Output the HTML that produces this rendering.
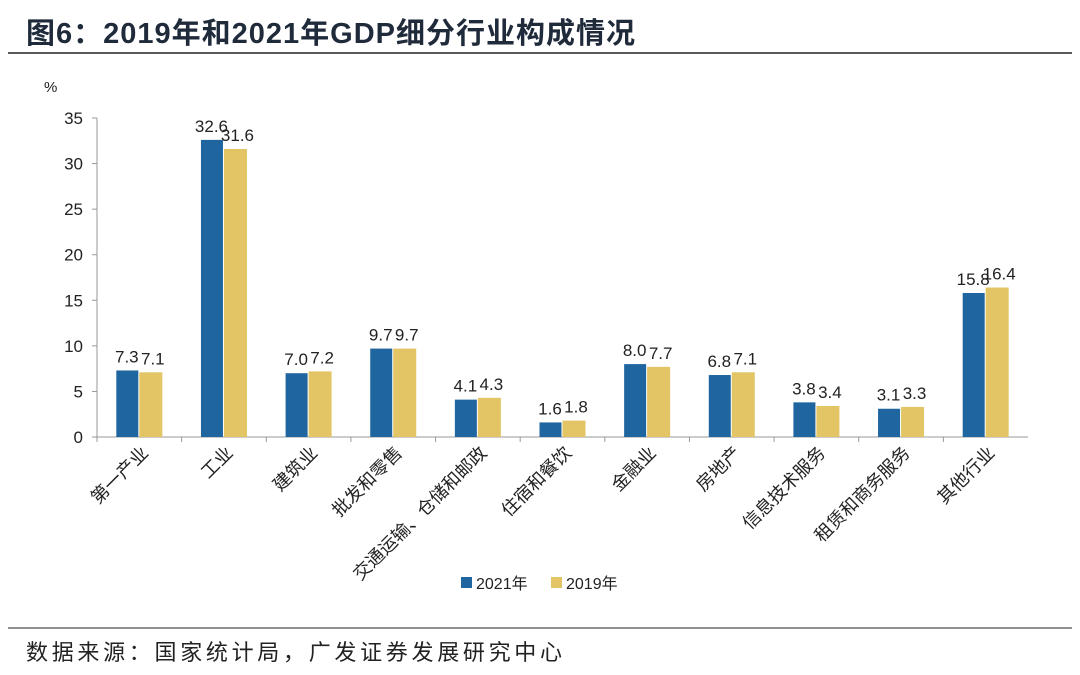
<!DOCTYPE html>
<html><head><meta charset="utf-8"><style>
body{margin:0;width:1080px;height:670px;background:#fff;overflow:hidden;font-family:"Liberation Sans","Noto Sans CJK SC",sans-serif;}
svg text{font-family:"Liberation Sans","Noto Sans CJK SC",sans-serif;}
</style></head><body>
<svg width="1080" height="670">
<text x="26" y="43" font-size="29" font-weight="bold" fill="#1f2a3a" letter-spacing="1">图6：2019年和2021年GDP细分行业构成情况</text>
<line x1="8" y1="53" x2="1072" y2="53" stroke="#222" stroke-width="1.5"/>
<text x="44" y="92" font-size="15" fill="#222">%</text>
<g id="plot"></g>
<rect x="461" y="577" width="11" height="11" fill="#1f65a0"/>
<text x="476" y="589" font-size="16" fill="#222">2021年</text>
<rect x="551" y="577" width="11" height="11" fill="#e3c565"/>
<text x="566" y="589" font-size="16" fill="#222">2019年</text>
<line x1="8" y1="628" x2="1072" y2="628" stroke="#222" stroke-width="1"/>
<text x="26" y="660" font-size="22" fill="#222" letter-spacing="3.7">数据来源：国家统计局，广发证券发展研究中心</text>
</svg>
<script>
const categories=["第一产业","工业","建筑业","批发和零售","交通运输、仓储和邮政","住宿和餐饮","金融业","房地产","信息技术服务","租赁和商务服务","其他行业"];
const values2021=[7.3,32.6,7.0,9.7,4.1,1.6,8.0,6.8,3.8,3.1,15.8];
const values2019=[7.1,31.6,7.2,9.7,4.3,1.8,7.7,7.1,3.4,3.3,16.4];
const yTicks=[0,5,10,15,20,25,30,35];
const NS="http://www.w3.org/2000/svg";
const g=document.getElementById('plot');
const x0=97,x1=1028,y0=437,yTop=118,yMax=35;
const band=(x1-x0)/categories.length;
const y=v=>y0-(y0-yTop)*v/yMax;
function mk(t,a,txt){const e=document.createElementNS(NS,t);for(const k in a)e.setAttribute(k,a[k]);if(txt!=null)e.textContent=txt;g.appendChild(e);return e;}
let e=mk('line',{x1:x0,y1:yTop,x2:x0,y2:y0,stroke:'#999'});


yTicks.forEach(t=>{
 let l=mk('line',{x1:x0-5,y1:y(t),x2:x0,y2:y(t),stroke:'#999'});
 
 
 let tx=mk('text',{x:x0-14,y:y(t)+6,'text-anchor':'end','font-size':17,fill:'#222'},t);
 
 
});
e=mk('line',{x1:x0,y1:y0,x2:x1,y2:y0,stroke:'#999'});


const bw=23;
categories.forEach((c,i)=>{
 const cx=x0+band*(i+0.5);
 let tk=mk('line',{x1:x0+band*i,y1:y0,x2:x0+band*i,y2:y0+5,stroke:'#999'});
 
 
 let b1=mk('rect',{x:cx-bw,y:y(values2021[i]),width:bw-1,height:y0-y(values2021[i]),fill:'#1f65a0'});
 
 
 let b2=mk('rect',{x:cx,y:y(values2019[i]),width:bw,height:y0-y(values2019[i]),fill:'#e3c565'});
 
 
 let v1=mk('text',{x:cx-bw/2-1,y:y(values2021[i])-8,'text-anchor':'middle','font-size':17,fill:'#222'},values2021[i].toFixed(1));
 
 
 let v2=mk('text',{x:cx+bw/2+2,y:y(values2019[i])-8,'text-anchor':'middle','font-size':17,fill:'#222'},values2019[i].toFixed(1));
 
 
 let cl=mk('text',{x:cx+10,y:y0+17,'text-anchor':'end','font-size':18,fill:'#222',transform:`rotate(-45 ${cx+10} ${y0+17})`},c);
 
 
});
</script>
</body></html>
